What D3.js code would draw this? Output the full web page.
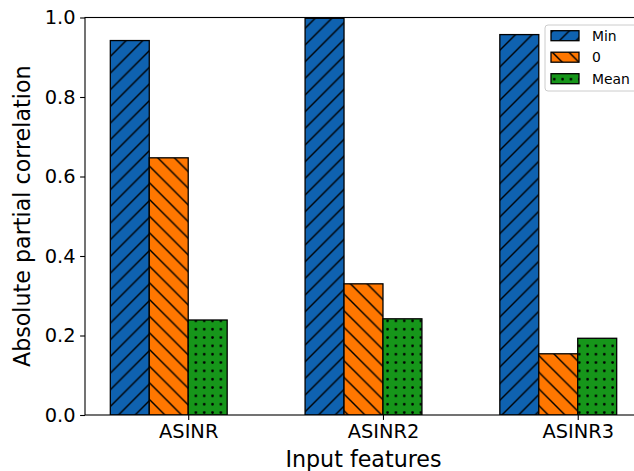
<!DOCTYPE html>
<html><head><meta charset="utf-8">
<script src="https://cdn.jsdelivr.net/npm/d3@7"></script>
<style>body{margin:0;background:#fff;} svg{display:block;font-family:"DejaVu Sans",sans-serif;}</style>
</head><body><svg id="chart" width="634" height="471"></svg>
<script>
const categories = ["ASINR", "ASINR2", "ASINR3"];
const seriesNames = ["Min", "0", "Mean"];
const minValues = [0.942, 0.998, 0.957];
const zeroValues = [0.647, 0.330, 0.154];
const meanValues = [0.239, 0.242, 0.193];
const yTicks = [0, 0.2, 0.4, 0.6, 0.8, 1.0];
const seriesColors = ["#0f62b0", "#ff7700", "#16961a"];
const seriesHatch = ["fwd", "back", "dots"];
const offsets = [-0.3, -0.1, 0.1];
const barWidth = 0.2;

const series = [minValues, zeroValues, meanValues];
const svg = d3.select("#chart");
const L = 85, R = 642, T = 17.5, B = 415;
const x = d3.scaleLinear().domain([-0.53, 2.33]).range([L, R]);
const y = d3.scaleLinear().domain([0, 1]).range([B, T]);

const defs = svg.append("defs");
const s = 16.67;
seriesColors.forEach((c, i) => {
  const kind = seriesHatch[i];
  if (kind === "dots") {
    const d = s / 2;
    const p = defs.append("pattern").attr("id", "pat" + i).attr("patternUnits", "userSpaceOnUse")
      .attr("width", d).attr("height", d);
    p.append("rect").attr("width", d).attr("height", d).attr("fill", c);
    p.append("circle").attr("cx", d / 2).attr("cy", d / 2).attr("r", 1.35).attr("fill", "#000");
  } else {
    const p = defs.append("pattern").attr("id", "pat" + i).attr("patternUnits", "userSpaceOnUse")
      .attr("width", s).attr("height", s);
    p.append("rect").attr("width", s).attr("height", s).attr("fill", c);
    const path = kind === "fwd"
      ? `M0,${s} L${s},0 M${-s/4},${s/4} L${s/4},${-s/4} M${s*3/4},${s*5/4} L${s*5/4},${s*3/4}`
      : `M0,0 L${s},${s} M${-s/4},${s*3/4} L${s/4},${s*5/4} M${s*3/4},${-s/4} L${s*5/4},${s/4}`;
    p.append("path").attr("d", path).attr("stroke", "#000").attr("stroke-width", 1.4).attr("fill", "none");
  }
});

defs.append("clipPath").attr("id", "plotclip").append("rect")
  .attr("x", L).attr("y", T).attr("width", R - L).attr("height", B - T);

const gBars = svg.append("g").attr("clip-path", "url(#plotclip)");
series.forEach((vals, si) => {
  gBars.selectAll(null).data(vals).enter().append("rect")
    .attr("x", (v, i) => x(i + offsets[si] - barWidth / 2))
    .attr("width", x(barWidth) - x(0))
    .attr("y", v => y(v))
    .attr("height", v => y(0) - y(v))
    .attr("fill", `url(#pat${si})`)
    .attr("stroke", "#000").attr("stroke-width", 1.3);
});

// axes
const yAxis = d3.axisLeft(y).tickValues(yTicks).tickFormat(d3.format(".1f")).tickSize(4.9).tickPadding(4.5);
const gy = svg.append("g").attr("transform", `translate(${L},0)`).call(yAxis);
gy.select(".domain").remove();
gy.selectAll("text").attr("font-size", "19.4px").attr("fill", "#000").attr("font-family", "DejaVu Sans");
gy.selectAll("line").attr("stroke", "#000").attr("stroke-width", 1.1);

const xAxis = d3.axisBottom(x).tickValues([0, 1, 2]).tickFormat(i => categories[i]).tickSize(4.9).tickPadding(4.5);
const gx = svg.append("g").attr("transform", `translate(0,${B})`).call(xAxis);
gx.select(".domain").remove();
gx.selectAll("text").attr("font-size", "19.4px").attr("fill", "#000").attr("font-family", "DejaVu Sans");
gx.selectAll("line").attr("stroke", "#000").attr("stroke-width", 1.1);

// spines
svg.append("rect").attr("x", L).attr("y", T).attr("width", R - L).attr("height", B - T)
  .attr("fill", "none").attr("stroke", "#000").attr("stroke-width", 1.1);

// labels
svg.append("text").attr("x", (L + R) / 2).attr("y", 467).attr("text-anchor", "middle")
  .attr("font-size", "22.2px").text("Input features");
svg.append("text").attr("transform", `translate(30,${(T + B) / 2}) rotate(-90)`).attr("text-anchor", "middle")
  .attr("font-size", "22.2px").text("Absolute partial correlation");

// legend
const lg = svg.append("g");
lg.append("rect").attr("x", 545).attr("y", 25).attr("width", 92).attr("height", 66).attr("rx", 3)
  .attr("fill", "#fff").attr("fill-opacity", 0.8).attr("stroke", "#cccccc").attr("stroke-width", 1);
seriesNames.forEach((name, i) => {
  const cy = 35.7 + i * 21.5;
  lg.append("rect").attr("x", 551).attr("y", cy - 5).attr("width", 28).attr("height", 10)
    .attr("fill", `url(#pat${i})`).attr("stroke", "#000").attr("stroke-width", 1.3);
  lg.append("text").attr("x", 592).attr("y", cy).attr("dy", "0.36em").attr("font-size", "13.9px").text(name);
});
</script></body></html>
